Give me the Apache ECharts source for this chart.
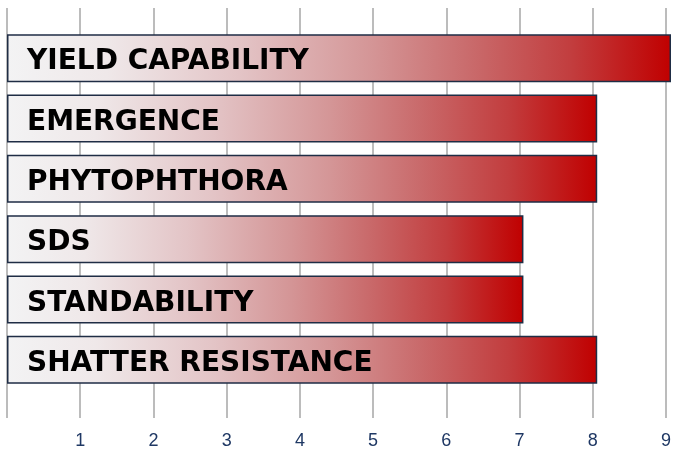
<!DOCTYPE html>
<html>
<head>
<meta charset="utf-8">
<script src="https://cdn.jsdelivr.net/npm/echarts@6/dist/echarts.min.js"></script>
<style>html,body{margin:0;padding:0;background:#fff}#c{width:674px;height:451px}</style>
</head>
<body>
<div id="c"></div>
<script>
const categories = ['YIELD CAPABILITY','EMERGENCE','PHYTOPHTHORA','SDS','STANDABILITY','SHATTER RESISTANCE'];
const values = [9, 8, 8, 7, 7, 8];
const tickLabels = ['', '1', '2', '3', '4', '5', '6', '7', '8', '9'];

const chart = echarts.init(document.getElementById('c'));
const grad = new echarts.graphic.LinearGradient(0, 0, 1, 0, [
  {offset: 0, color: '#f3f3f4'},
  {offset: 0.15, color: '#efe8e9'},
  {offset: 0.35, color: '#e3c4c6'},
  {offset: 0.55, color: '#d49596'},
  {offset: 0.7, color: '#c96a6b'},
  {offset: 0.85, color: '#c23d3e'},
  {offset: 1, color: '#c00000'}
]);
chart.setOption({
  animation: false,
  grid: [
    {left: 7, right: 3, top: 8, bottom: 33},
    {left: 7, right: 3, top: 28, bottom: 61}
  ],
  xAxis: [
    {
      gridIndex: 0, type: 'value', min: 0, max: 9, interval: 1,
      axisLine: {show: false}, axisTick: {show: false},
      splitLine: {show: true, lineStyle: {color: '#a6a6a6', width: 1.5}},
      axisLabel: {
        margin: 14, color: '#1f3864', fontSize: 18, fontFamily: 'Liberation Sans',
        formatter: v => tickLabels[v] || ''
      }
    },
    {
      gridIndex: 1, type: 'value', min: 0, max: 9, interval: 1, show: false,
      splitLine: {show: false}
    }
  ],
  yAxis: [
    {gridIndex: 0, type: 'category', data: [], show: false},
    {gridIndex: 1, type: 'category', data: categories, inverse: true, show: false}
  ],
  series: [{
    type: 'bar',
    xAxisIndex: 1, yAxisIndex: 1,
    data: values,
    barWidth: 48,
    itemStyle: {color: grad, borderColor: '#1f2d45', borderWidth: 1.5},
    label: {
      show: true, position: 'insideLeft', distance: 20, offset: [0, 4],
      formatter: p => categories[p.dataIndex],
      color: '#000', fontWeight: 'bold', fontSize: 28, fontFamily: 'DejaVu Sans'
    }
  }]
});
</script>
</body>
</html>
